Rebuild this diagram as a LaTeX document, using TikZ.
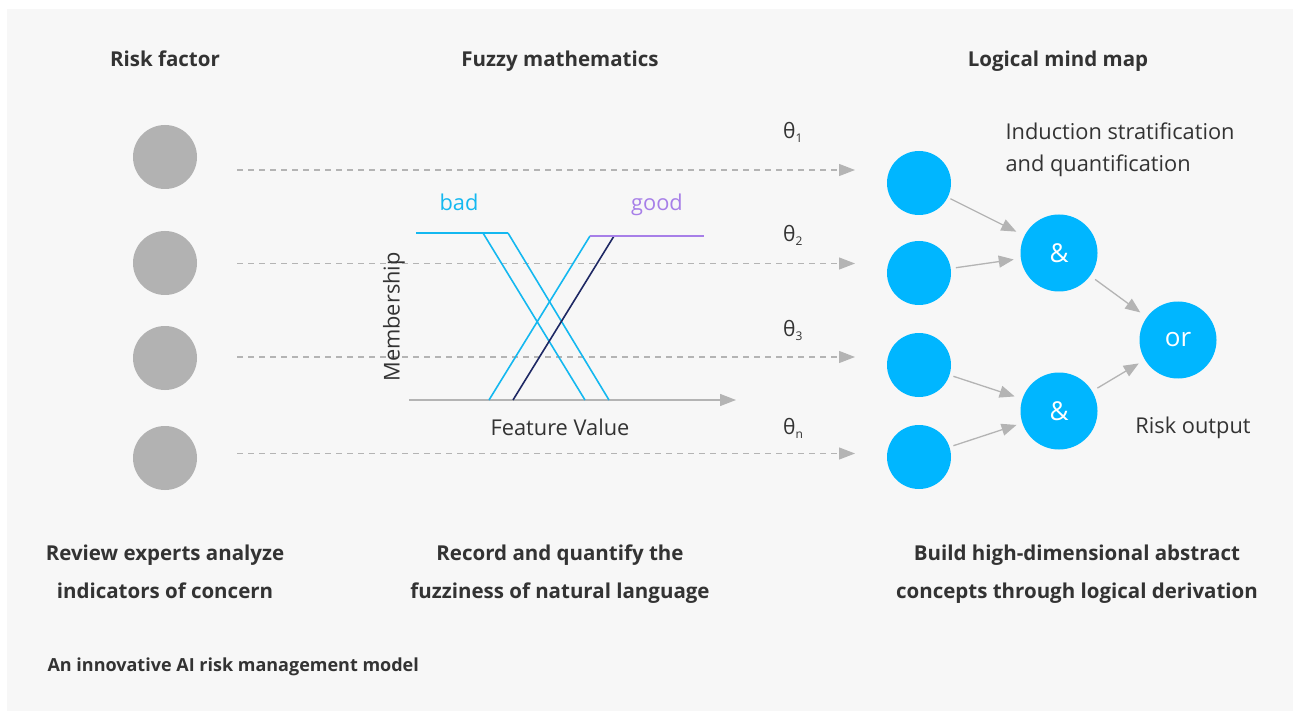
\documentclass[tikz,border=0pt]{standalone}
\usepackage{fontspec}
\setmainfont{Open Sans}
\usetikzlibrary{arrows.meta}
\definecolor{bgc}{RGB}{247,247,247}
\definecolor{txt}{RGB}{51,51,51}
\definecolor{disc}{RGB}{178,178,178}
\definecolor{sky}{RGB}{0,182,255}
\definecolor{lineblue}{RGB}{20,184,240}
\definecolor{navy}{RGB}{30,40,100}
\definecolor{violet}{RGB}{167,127,232}
\definecolor{arr}{RGB}{180,180,180}
\newcommand{\thsub}[1]{θ\raisebox{-4pt}{\fontsize{12}{12}\selectfont #1}}
\begin{document}
\begin{tikzpicture}[x=1pt,y=-1pt,
  heading/.style={font=\fontsize{20.5}{23}\selectfont\bfseries, text=txt, anchor=base},
  caption/.style={font=\fontsize{20.5}{38}\selectfont\bfseries, text=txt, align=center},
  plain/.style={font=\fontsize{21.8}{32}\selectfont, text=txt},
  factor/.style={circle, fill=disc, minimum size=64pt, inner sep=0pt},
  leaf/.style={circle, fill=sky, minimum size=64pt, inner sep=0pt},
  gate/.style={circle, fill=sky, minimum size=77pt, inner sep=0pt, text=white, font=\fontsize{26}{26}\selectfont},
  flow/.style={draw=arr, line width=1.2pt, dash pattern=on 6pt off 5pt, -{Triangle[length=16pt,width=12pt,fill=arr]}},
  link/.style={draw=arr, line width=1.3pt, -{Triangle[length=15pt,width=12pt,fill=arr]}},
  theta/.style={font=\fontsize{21}{23}\selectfont, text=txt, anchor=west, inner sep=0pt}
]
\useasboundingbox (0,0) rectangle (1293,711);
\fill[white] (0,0) rectangle (1293,711);
\fill[bgc] (7,9) rectangle (1293,711);

% column headings
\node[heading] (h1) at (165,67) {Risk factor};
\node[heading] (h2) at (560,67) {Fuzzy mathematics};
\node[heading] (h3) at (1058,67) {Logical mind map};

% risk factors
\node[factor] (f1) at (165,157) {};
\node[factor] (f2) at (165,263) {};
\node[factor] (f3) at (165,358) {};
\node[factor] (f4) at (165,458) {};

% dashed flows towards the mind map
\coordinate (s1) at (237,170); \coordinate (e1) at (855,170);
\coordinate (s2) at (237,263.5); \coordinate (e2) at (855,263.5);
\coordinate (s3) at (237,357); \coordinate (e3) at (855,357);
\coordinate (s4) at (237,453.5); \coordinate (e4) at (855,453.5);
\draw[flow] (s1) -- (e1);
\draw[flow] (s2) -- (e2);
\draw[flow] (s3) -- (e3);
\draw[flow] (s4) -- (e4);

\node[theta] (t1) at (783,132) {\thsub{1}};
\node[theta] (t2) at (783,235) {\thsub{2}};
\node[theta] (t3) at (783,330) {\thsub{3}};
\node[theta] (t4) at (783,428) {\thsub{n}};

% membership functions
\coordinate (ax0) at (409,400); \coordinate (ax1) at (736,400);
\draw[draw=arr, line width=1.3pt, -{Triangle[length=16pt,width=12pt,fill=arr]}] (ax0) -- (ax1);
\draw[lineblue, line width=1.6pt] (416,233) -- (508,233);
\draw[lineblue, line width=1.6pt] (483,233) -- (585,400);
\draw[lineblue, line width=1.6pt] (508,233) -- (609,400);
\draw[lineblue, line width=1.6pt] (489,400) -- (590,236);
\draw[navy, line width=1.6pt] (513,400) -- (614,236);
\draw[violet, line width=1.6pt] (590,236) -- (704,236);
\node[font=\fontsize{21.8}{23}\selectfont, text=lineblue, anchor=base] (bad) at (459,211) {bad};
\node[font=\fontsize{21.8}{23}\selectfont, text=violet, anchor=base] (good) at (657,211) {good};
\node[plain, rotate=90] (mem) at (394,317) {Membership};
\node[plain] (fv) at (560,427) {Feature Value};

% logical mind map
\node[leaf] (l1) at (919,183) {};
\node[leaf] (l2) at (919,273) {};
\node[leaf] (l3) at (919,365) {};
\node[leaf] (l4) at (919,457) {};
\node[gate] (a1) at (1059,253) {\&};
\node[gate] (a2) at (1059,411) {\&};
\node[gate] (o1) at (1178,340) {or};
\draw[link, shorten <=3pt, shorten >=9pt] (l1) -- (a1);
\draw[link, shorten <=5pt, shorten >=7pt] (l2) -- (a1);
\draw[link, shorten <=4pt, shorten >=8pt] (l3) -- (a2);
\draw[link, shorten <=4pt, shorten >=6pt] (l4) -- (a2);
\draw[link, shorten <=6pt, shorten >=8pt] (a1) -- (o1);
\draw[link, shorten <=6pt, shorten >=7pt] (a2) -- (o1);

\node[plain, anchor=west, align=left] (ind) at (1002,150) {Induction stratification\\and quantification};
\node[plain] (out) at (1193,428) {Risk output};

% captions
\node[caption] (c1) at (165,571.5) {\strut Review experts analyze\\\strut indicators of concern};
\node[caption] (c2) at (560,571.5) {\strut Record and quantify the\\\strut fuzziness of natural language};
\node[caption] (c3) at (1077,571.5) {\strut Build high-dimensional abstract\\\strut concepts through logical derivation};
\node[font=\fontsize{18}{20}\selectfont\bfseries, text=txt, anchor=base west] (foot) at (44,671) {An innovative AI risk management model};
\end{tikzpicture}
\end{document}
